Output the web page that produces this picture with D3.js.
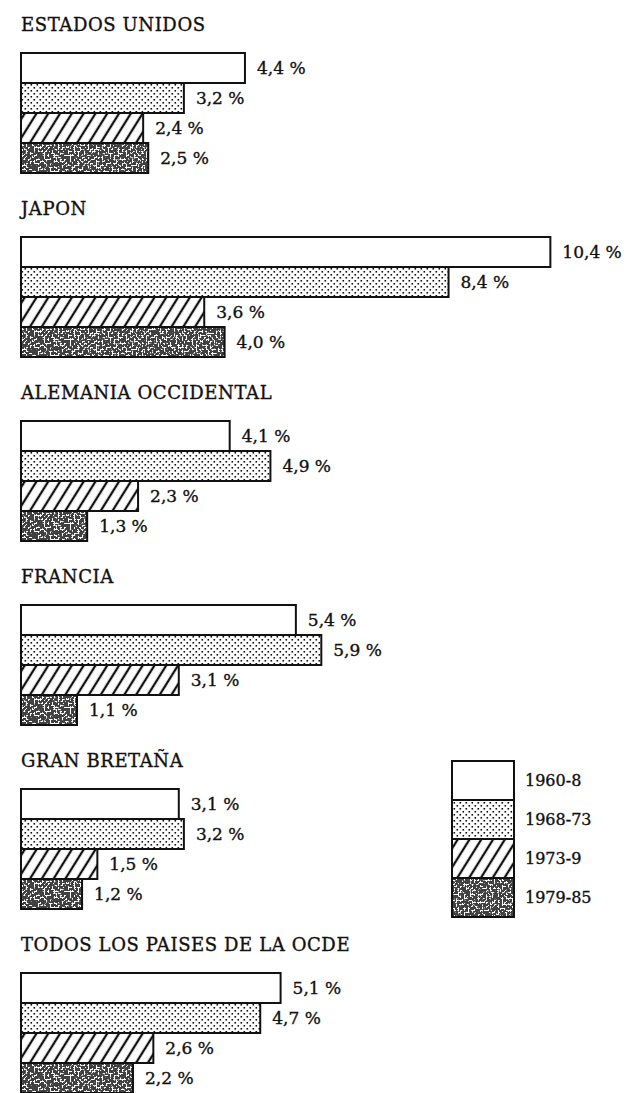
<!DOCTYPE html>
<html>
<head>
<meta charset="utf-8">
<script src="https://cdn.jsdelivr.net/npm/d3@7"></script>
<style>
	html, body { margin: 0; padding: 0; background: #fff; }
	svg { display: block; }
	text { font-family: "DejaVu Serif", serif; fill: #111; stroke: #111; stroke-width: 0.35px; }
</style>
</head>
<body>
<div id="chart"></div>
<script>
/* global d3 */

// data (annual growth, %)
var countries = ['ESTADOS UNIDOS', 'JAPON', 'ALEMANIA OCCIDENTAL', 'FRANCIA', 'GRAN BRETAÑA', 'TODOS LOS PAISES DE LA OCDE'];
var periods = ['1960-8', '1968-73', '1973-9', '1979-85'];
var growthUS = [4.4, 3.2, 2.4, 2.5];
var growthJapan = [10.4, 8.4, 3.6, 4.0];
var growthWestGermany = [4.1, 4.9, 2.3, 1.3];
var growthFrance = [5.4, 5.9, 3.1, 1.1];
var growthBritain = [3.1, 3.2, 1.5, 1.2];
var growthOECD = [5.1, 4.7, 2.6, 2.2];
var growthRates = [growthUS, growthJapan, growthWestGermany, growthFrance, growthBritain, growthOECD];

(function () {
	'use strict';

	var width = 628,
		height = 1093,
		barBlock = 120;

	var svg = d3.select('#chart').append('svg')
		.attr('width', width)
		.attr('height', height);

	// textures
	var defs = svg.append('defs');

	var dots = defs.append('pattern')
		.attr('id', 'dots')
		.attr('patternUnits', 'userSpaceOnUse')
		.attr('width', 6)
		.attr('height', 6);
	dots.append('rect').attr('width', 6).attr('height', 6).attr('fill', '#fff');
	dots.append('rect').attr('x', 0.5).attr('y', 1).attr('width', 1.6).attr('height', 1.6).attr('fill', '#111');
	dots.append('rect').attr('x', 3.5).attr('y', 4).attr('width', 1.6).attr('height', 1.6).attr('fill', '#111');

	var hatch = defs.append('pattern')
		.attr('id', 'hatch')
		.attr('patternUnits', 'userSpaceOnUse')
		.attr('width', 10)
		.attr('height', 10)
		.attr('patternTransform', 'rotate(32)');
	hatch.append('rect').attr('width', 10).attr('height', 10).attr('fill', '#fff');
	hatch.append('line')
		.attr('x1', 3).attr('y1', 0).attr('x2', 3).attr('y2', 10)
		.attr('stroke', '#111').attr('stroke-width', 2.3);

	var stipple = defs.append('filter')
		.attr('id', 'stipple')
		.attr('x', 0).attr('y', 0).attr('width', 1).attr('height', 1);
	stipple.append('feTurbulence')
		.attr('type', 'fractalNoise')
		.attr('baseFrequency', 0.5)
		.attr('numOctaves', 2)
		.attr('seed', 4)
		.attr('result', 'noise');
	stipple.append('feColorMatrix')
		.attr('in', 'noise')
		.attr('type', 'matrix')
		.attr('values', '0 0 0 0 0.05  0 0 0 0 0.05  0 0 0 0 0.05  14 0 0 0 -5.9')
		.attr('result', 'specks');
	stipple.append('feComposite')
		.attr('in', 'specks')
		.attr('in2', 'SourceAlpha')
		.attr('operator', 'in');

	var fills = ['#fff', 'url(#dots)', 'url(#hatch)', '#fff'];

	// scales
	var x = d3.scaleLinear().domain([0, 10]).range([21, 530]);
	var groupY = d3.scalePoint().domain(countries).range([53, 973]);
	var barY = d3.scaleBand().domain(periods).range([0, barBlock]);
	var fmt = function (v) { return d3.format('.1f')(v).replace('.', ',') + ' %'; };

	function drawSwatch (sel, x0, w, y0, h, i) {
		sel.append('rect')
			.attr('x', x0).attr('y', y0).attr('width', w).attr('height', h)
			.attr('fill', fills[i]);
		if (i === 3) {
			sel.append('rect')
				.attr('x', x0).attr('y', y0).attr('width', w).attr('height', h)
				.attr('fill', '#000')
				.attr('filter', 'url(#stipple)');
		}
		sel.append('rect')
			.attr('x', x0).attr('y', y0).attr('width', w).attr('height', h)
			.attr('fill', 'none')
			.attr('stroke', '#111')
			.attr('stroke-width', 2);
	}

	// one panel per country
	var groups = svg.selectAll('.country')
		.data(countries)
		.enter().append('g')
			.attr('class', 'country')
			.attr('transform', function (d) { return 'translate(0,' + groupY(d) + ')'; });

	groups.append('text')
		.attr('x', 21)
		.attr('y', -22)
		.style('font-size', '18px')
		.style('letter-spacing', '0.6px')
		.text(function (d) { return d; });

	groups.each(function (country, ci) {
		var g = d3.select(this);
		growthRates[ci].forEach(function (v, i) {
			var y0 = barY(periods[i]);
			drawSwatch(g, x(0), x(v) - x(0), y0, barY.bandwidth(), i);
			g.append('text')
				.attr('x', x(v) + 12)
				.attr('y', y0 + barY.bandwidth() / 2 + 1)
				.attr('dominant-baseline', 'middle')
				.style('font-size', '17px')
				.text(fmt(v));
		});
	});

	// legend
	var legendY = d3.scaleBand().domain(periods).range([761, 917]);
	var legend = svg.append('g').attr('class', 'legend');
	periods.forEach(function (p, i) {
		drawSwatch(legend, 452, 62, legendY(p), legendY.bandwidth(), i);
		legend.append('text')
			.attr('x', 525)
			.attr('y', legendY(p) + legendY.bandwidth() / 2 + 1)
			.attr('dominant-baseline', 'middle')
			.style('font-size', '16px')
			.text(p);
	});
})();
</script>
</body>
</html>
